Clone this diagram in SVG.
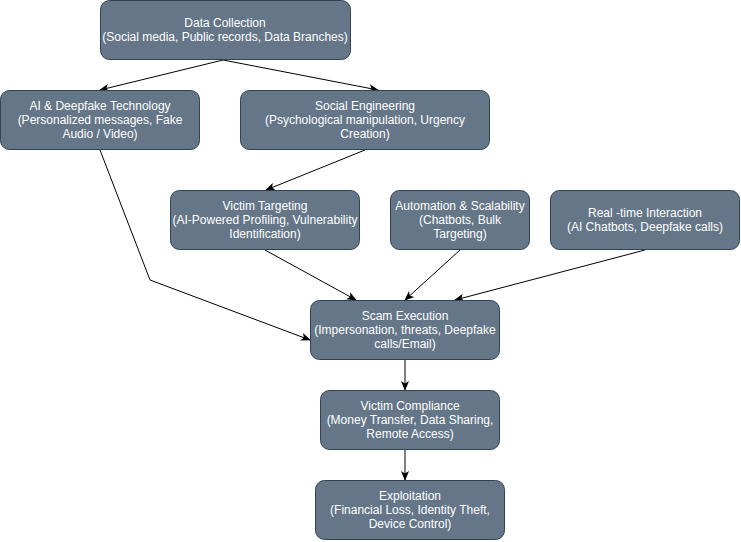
<svg xmlns="http://www.w3.org/2000/svg" width="741" height="542" viewBox="0 0 741 542">
<style>
.box{fill:#647687;stroke:#314354;stroke-width:1}
.t{font-family:"Liberation Sans",Arial,Helvetica,sans-serif;font-size:12px;fill:#ffffff;text-anchor:middle}
.e{fill:none;stroke:#000;stroke-width:1}
</style>
<defs>
<marker id="arr" viewBox="0 0 10 10" refX="9" refY="5" markerWidth="10" markerHeight="10" markerUnits="userSpaceOnUse" orient="auto">
<path d="M0,1 L10,5 L0,9 L2.5,5 Z" fill="#000"/>
</marker>
</defs>
<rect width="741" height="542" fill="#ffffff"/>
<g id="connectors">
<path class="e" d="M223,60 L100,90" marker-end="url(#arr)"/>
<path class="e" d="M223,60 L378,90" marker-end="url(#arr)"/>
<path class="e" d="M365,150 L266,190" marker-end="url(#arr)"/>
<path class="e" d="M100,150 L150,280 L310,340" marker-end="url(#arr)"/>
<path class="e" d="M265,250 L356,300" marker-end="url(#arr)"/>
<path class="e" d="M460,250 L405,300" marker-end="url(#arr)"/>
<path class="e" d="M645,250 L455,300" marker-end="url(#arr)"/>
<path class="e" d="M405,360 L405,390" marker-end="url(#arr)"/>
<path class="e" d="M405,450 L405,480" marker-end="url(#arr)"/>
</g>
<g id="data-collection">
<rect class="box" x="100.5" y="0.5" width="250" height="59" rx="9"/>
<text class="t" x="225" y="27">Data Collection</text>
<text class="t" x="225" y="41">(Social media, Public records, Data Branches)</text>
</g>
<g id="ai-deepfake">
<rect class="box" x="0.5" y="90.5" width="199" height="59" rx="9"/>
<text class="t" x="100" y="110">AI &amp; Deepfake Technology</text>
<text class="t" x="100" y="124">(Personalized messages, Fake</text>
<text class="t" x="100" y="138">Audio / Video)</text>
</g>
<g id="social-engineering">
<rect class="box" x="240.5" y="90.5" width="249" height="59" rx="9"/>
<text class="t" x="365" y="110">Social Engineering</text>
<text class="t" x="365" y="124">(Psychological manipulation, Urgency</text>
<text class="t" x="365" y="138">Creation)</text>
</g>
<g id="victim-targeting">
<rect class="box" x="170.5" y="190.5" width="189" height="59" rx="9"/>
<text class="t" x="265" y="210">Victim Targeting</text>
<text class="t" x="265" y="224">(AI-Powered Profiling, Vulnerability</text>
<text class="t" x="265" y="238">Identification)</text>
</g>
<g id="automation">
<rect class="box" x="390.5" y="190.5" width="139" height="59" rx="9"/>
<text class="t" x="460" y="210">Automation &amp; Scalability</text>
<text class="t" x="460" y="224">(Chatbots, Bulk</text>
<text class="t" x="460" y="238">Targeting)</text>
</g>
<g id="real-time">
<rect class="box" x="550.5" y="190.5" width="189" height="59" rx="9"/>
<text class="t" x="645" y="217">Real -time Interaction</text>
<text class="t" x="645" y="231">(AI Chatbots, Deepfake calls)</text>
</g>
<g id="scam-execution">
<rect class="box" x="310.5" y="300.5" width="189" height="59" rx="9"/>
<text class="t" x="405" y="320">Scam Execution</text>
<text class="t" x="405" y="334">(Impersonation, threats, Deepfake</text>
<text class="t" x="405" y="348">calls/Email)</text>
</g>
<g id="victim-compliance">
<rect class="box" x="320.5" y="390.5" width="179" height="59" rx="9"/>
<text class="t" x="410" y="410">Victim Compliance</text>
<text class="t" x="410" y="424">(Money Transfer, Data Sharing,</text>
<text class="t" x="410" y="438">Remote Access)</text>
</g>
<g id="exploitation">
<rect class="box" x="315.5" y="480.5" width="189" height="59" rx="9"/>
<text class="t" x="410" y="500">Exploitation</text>
<text class="t" x="410" y="514">(Financial Loss, Identity Theft,</text>
<text class="t" x="410" y="528">Device Control)</text>
</g>
</svg>
